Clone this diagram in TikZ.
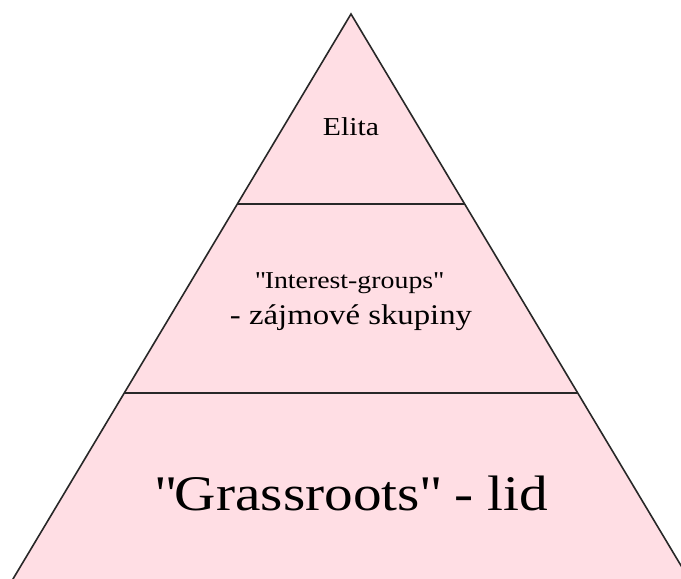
\documentclass[tikz,border=0pt]{standalone}
\usepackage{fontspec}
\setmainfont[FakeStretch=1.15]{Liberation Serif}
\newcommand\dq{\XeTeXglyph\XeTeXcharglyph"22\relax}
\definecolor{pyrpink}{RGB}{255,222,228}
\definecolor{pyrline}{RGB}{40,40,40}
\begin{document}
\begin{tikzpicture}[x=1pt,y=-1pt,
  layer/.style={line width=1.6pt, draw=pyrline},
  lbl/.style={anchor=base, inner sep=0pt, text=black}]
\useasboundingbox (0,0) rectangle (681,579);
\clip (0,0) rectangle (681,579);
\coordinate (apex) at (351,14);
\coordinate (bl) at (6.4,590);
\coordinate (br) at (695.6,590);
\coordinate (l1) at (237.3,204);
\coordinate (r1) at (464.7,204);
\coordinate (l2) at (124.3,393);
\coordinate (r2) at (577.7,393);
\filldraw[layer, fill=pyrpink, line join=miter] (bl) -- (apex) -- (br) -- cycle;
\draw[layer] (l1) -- (r1);
\draw[layer] (l2) -- (r2);
\node[lbl, font=\fontsize{25.8}{30}\selectfont] (elita) at (351,135) {Elita};
\node[lbl, font=\fontsize{24.2}{28}\selectfont] (ig) at (349,288) {\dq Interest-groups\dq};
\node[lbl, font=\fontsize{28.5}{33}\selectfont] (zs) at (351,324) {- zájmové skupiny};
\node[lbl, font=\fontsize{49.8}{56}\selectfont] (gr) at (351.5,510) {\dq Grassroots\dq{} - lid};
\end{tikzpicture}
\end{document}
